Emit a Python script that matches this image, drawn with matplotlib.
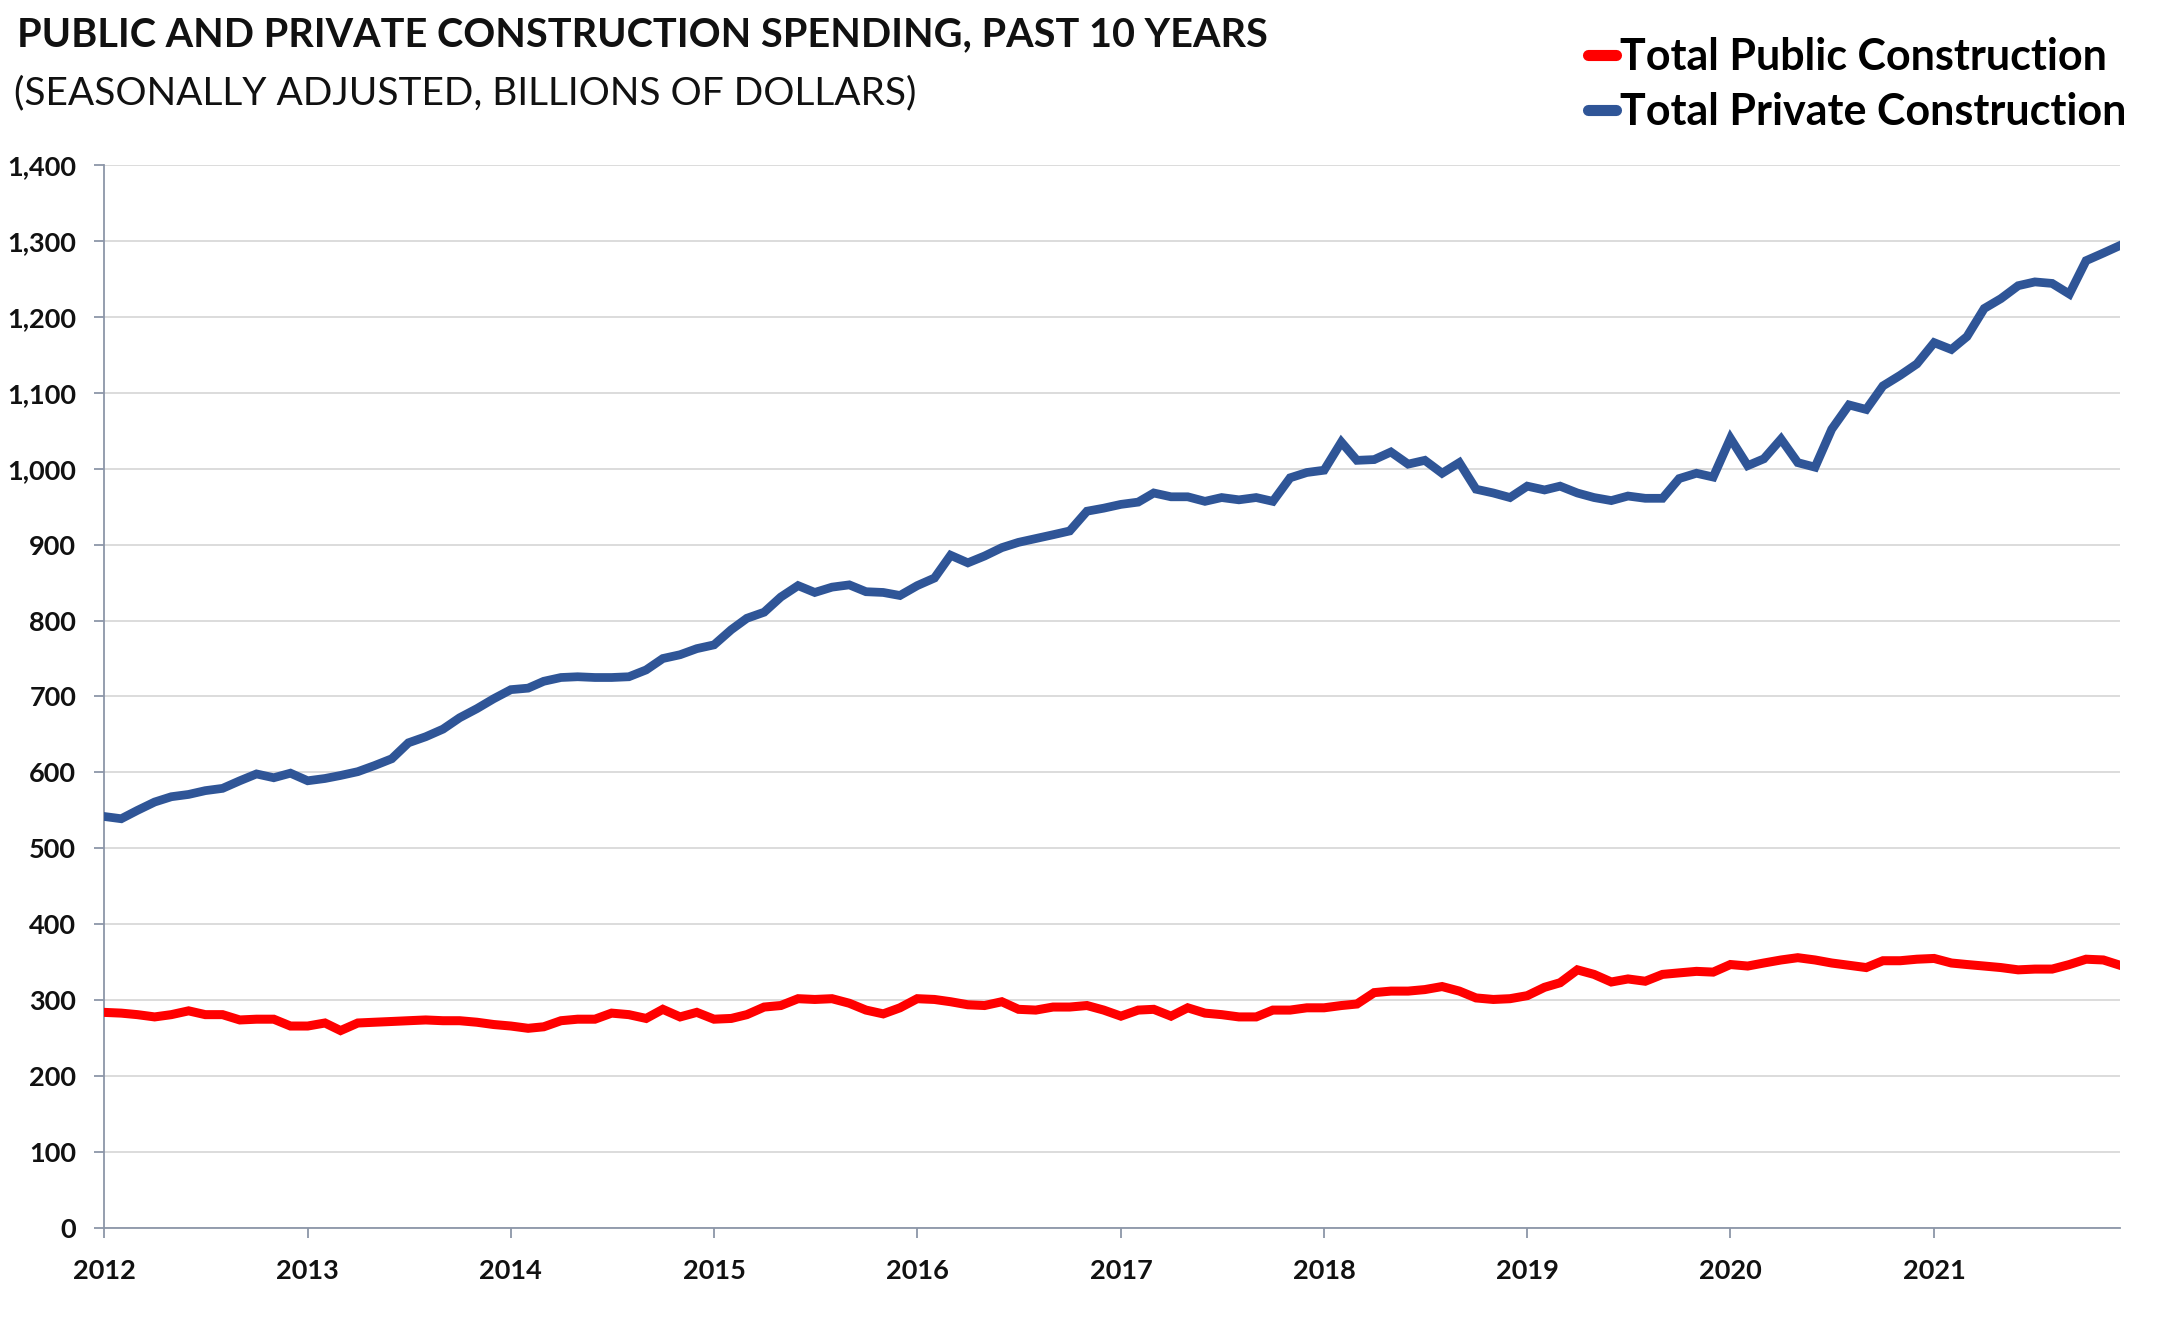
import matplotlib
matplotlib.use("Agg")
import matplotlib.pyplot as plt
import matplotlib.dates as mdates
import matplotlib.ticker as mticker
import pandas as pd

# datos mensuales, ene 2012 - dic 2021 (miles de millones de dólares)
public = [284, 283, 281, 278, 281, 286, 281, 281, 274, 275, 275, 266,
          266, 270, 260, 270, 271, 272, 273, 274, 273, 273, 271, 268,
          266, 263, 265, 273, 275, 275, 283, 281, 276, 288, 278, 284,
          275, 276, 281, 291, 293, 302, 301, 302, 296, 287, 282, 290,
          302, 301, 298, 294, 293, 298, 288, 287, 291, 291, 293, 287,
          279, 287, 288, 279, 290, 283, 281, 278, 278, 287, 287, 290,
          290, 293, 295, 310, 312, 312, 314, 318, 312, 303, 301, 302,
          306, 317, 323, 340, 334, 324, 328, 325, 334, 336, 338, 337,
          347, 345, 349, 353, 356, 353, 349, 346, 343, 352, 352, 354,
          355, 349, 347, 345, 343, 340, 341, 341, 347, 354, 353, 346]

private = [542, 539, 550, 561, 568, 571, 576, 579, 589, 598, 593, 599,
           589, 592, 596, 601, 609, 618, 639, 647, 657, 672, 684, 697,
           709, 711, 720, 725, 726, 725, 725, 726, 735, 750, 755, 763,
           768, 788, 803, 811, 831, 846, 837, 844, 847, 838, 837, 833,
           846, 856, 886, 876, 885, 896, 903, 908, 913, 918, 944, 948,
           953, 956, 968, 963, 963, 957, 962, 959, 962, 957, 988, 995,
           998, 1035, 1011, 1012, 1022, 1006, 1011, 994, 1008, 973, 968, 962,
           977, 972, 977, 968, 962, 958, 964, 961, 961, 987, 994, 989,
           1040, 1004, 1013, 1039, 1008, 1002, 1052, 1084, 1078, 1109, 1123, 1138,
           1166, 1157, 1174, 1211, 1224, 1241, 1246, 1244, 1230, 1274, 1284, 1294]

months = pd.date_range("2012-01-01", periods=len(public), freq="MS")
series_names = ["Total Public Construction", "Total Private Construction"]

fuente = "Lato"
plt.rcParams["font.family"] = [fuente, "DejaVu Sans"]

fig = plt.figure(figsize=(21.8, 13.24), dpi=100)
ax = fig.add_axes([0.0477, 0.0725, 0.9725 - 0.0477, 0.8754 - 0.0725])

ax.plot(months, public, color="#FF0000", lw=6.5, solid_joinstyle="miter",
        label=series_names[0], zorder=3)
ax.plot(months, private, color="#2F5597", lw=6.3, solid_joinstyle="miter",
        label=series_names[1], zorder=3)

# ejes
ax.set_xlim(months[0], months[-1])
ax.set_ylim(0, 1400)
ax.yaxis.set_major_locator(mticker.MultipleLocator(100))
ax.yaxis.set_major_formatter(mticker.FuncFormatter(lambda v, p: f"{int(v):,}"))
ax.xaxis.set_major_locator(mdates.YearLocator())
ax.xaxis.set_major_formatter(mdates.DateFormatter("%Y"))

ax.grid(axis="y", color="#D9D9D9", lw=1.3, zorder=0)
for s in ["top", "right"]:
    ax.spines[s].set_visible(False)
for s in ["left", "bottom"]:
    ax.spines[s].set_color("#8C96A8")
    ax.spines[s].set_linewidth(1.3)

ax.tick_params(axis="both", direction="out", length=7, width=1.3, color="#8C96A8")
ax.tick_params(axis="y", pad=13)
ax.tick_params(axis="x", pad=15)
for lab in ax.get_xticklabels() + ax.get_yticklabels():
    lab.set_fontsize(19.5)
    lab.set_fontweight("bold")
    lab.set_color("#111111")

# títulos
fig.text(0.0078, 0.9653, "PUBLIC AND PRIVATE CONSTRUCTION SPENDING, PAST 10 YEARS",
         fontsize=28.5, fontweight="bold", va="baseline", ha="left", color="#111111")
fig.text(0.0064, 0.9215, "(SEASONALLY ADJUSTED, BILLIONS OF DOLLARS)",
         fontsize=28, va="baseline", ha="left", color="#111111")

leg = fig.legend(loc="upper left", bbox_to_anchor=(1588 / 2180, 1 - 37 / 1324),
                 frameon=False, borderpad=0, borderaxespad=0, handlelength=0.65,
                 handletextpad=0.1, labelspacing=0.35,
                 prop={"family": fuente, "weight": "bold", "size": 31})
for h in leg.get_lines():
    h.set_linewidth(8)
    h.set_solid_capstyle("round")

fig.savefig("out.png", dpi=100)
